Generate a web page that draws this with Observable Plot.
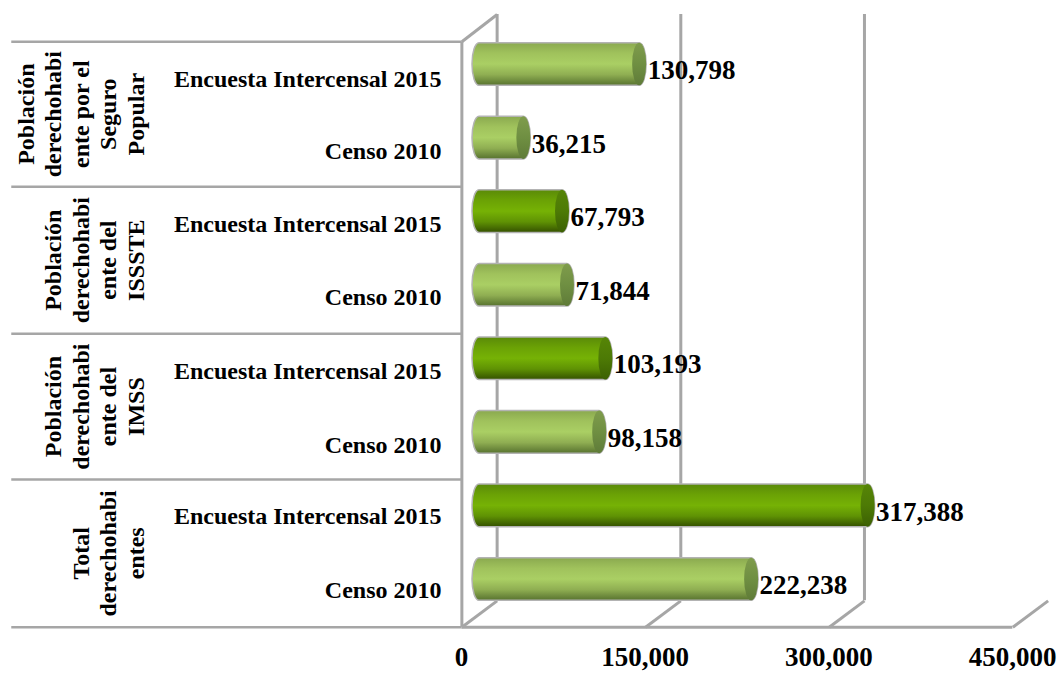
<!DOCTYPE html>
<html><head><meta charset="utf-8">
<script src="https://cdn.jsdelivr.net/npm/d3@7"></script>
<script src="https://cdn.jsdelivr.net/npm/@observablehq/plot@0.6"></script>
<style>html,body{margin:0;padding:0;background:#fff}svg{display:block}</style>
</head><body><div id="chart"></div>
<script>
const sources = ["Encuesta Intercensal 2015","Censo 2010","Encuesta Intercensal 2015","Censo 2010","Encuesta Intercensal 2015","Censo 2010","Encuesta Intercensal 2015","Censo 2010"];
const values = [130798,36215,67793,71844,103193,98158,317388,222238];
const darkBars = [false,false,true,false,true,false,true,false];
const groupLabels = ["Población\nderechohabi\nente por el\nSeguro\nPopular","Población\nderechohabi\nente del\nISSSTE","Población\nderechohabi\nente del\nIMSS","Total\nderechohabi\nentes"];
const ticks = [0,150000,300000,450000];
const wallTicks = [0,150000,300000];
const separators = [-0.31,1.66,3.66,5.64,7.65];

// scale-space helpers for the pseudo 3-D frame
const depth = 14400, capHalf = 5700, halfBar = 0.29;
const leftEdge = -382000, groupX = -274000;
const backTop = -0.68, backFloor = 7.29, floor = separators[4], wallTop = separators[0];
const labelNudge = [0.03,0,-0.01,-0.01,0,0,-0.03,-0.03];

const rows = values.map((v,i)=>({row:i,value:v,source:sources[i],dark:darkBars[i]}));
const groups = groupLabels.map((t,i)=>({text:t,row:(separators[i]+separators[i+1])/2}));
const grid = "#a6a6a6";

function gradient(defs,id,stops){
  const g = defs.append("linearGradient").attr("id",id).attr("x1",0).attr("y1",0).attr("x2",0).attr("y2",1);
  stops.forEach(([o,c])=>g.append("stop").attr("offset",o).attr("stop-color",c));
}
const defsMark = () => {
  const defs = d3.create("svg:defs");
  gradient(defs,"light",[[0,"#8aa94f"],[0.25,"#a0c25c"],[0.5,"#aacf64"],[0.75,"#8fae52"],[1,"#57722f"]]);
  gradient(defs,"dark",[[0,"#5a8a08"],[0.25,"#6ba205"],[0.5,"#76b205"],[0.75,"#5f9204"],[1,"#345000"]]);
  gradient(defs,"lightCap",[[0,"#7f9c4c"],[0.5,"#6f8f42"],[1,"#5f7b38"]]);
  gradient(defs,"darkCap",[[0,"#568507"],[0.5,"#4d7a05"],[1,"#3c6003"]]);
  return defs.node();
};

const bars = (dark) => {
  const data = rows.filter(d=>d.dark===dark);
  return [
    Plot.rect(data,{x1:-capHalf,x2:d=>d.value+capHalf,y1:d=>d.row-halfBar,y2:d=>d.row+halfBar,rx:7,ry:21,
      fill:dark?"url(#dark)":"url(#light)",stroke:"#b3b3b3",strokeWidth:1.5}),
    Plot.rect(data,{x1:d=>d.value-capHalf,x2:d=>d.value+capHalf,y1:d=>d.row-halfBar,y2:d=>d.row+halfBar,rx:7,ry:21,
      fill:dark?"url(#darkCap)":"url(#lightCap)"})
  ];
};

const chart = Plot.plot({
  width:1057,height:673,
  marginTop:0,marginRight:0,marginBottom:45,marginLeft:0,
  style:{fontFamily:"'Liberation Serif',serif",fontWeight:"bold",color:"#000",background:"#fff",overflow:"visible"},
  x:{type:"linear",domain:[0,450000],range:[479,1030],axis:null},
  y:{type:"linear",domain:[0,7],range:[64,579],axis:null},
  marks:[
    defsMark,
    Plot.ruleX(wallTicks,{x:d=>d+depth,y1:backTop,y2:backFloor,stroke:grid,strokeWidth:3}),
    Plot.link(ticks,{x1:d=>d-depth,x2:d=>d+depth,y1:floor,y2:backFloor,stroke:grid,strokeWidth:3}),
    Plot.link([0],{x1:d=>d-depth,x2:d=>d+depth,y1:wallTop,y2:backTop,stroke:grid,strokeWidth:3}),
    Plot.ruleX([0],{x:d=>d-depth,y1:wallTop,y2:floor,stroke:grid,strokeWidth:3}),
    Plot.ruleY(separators,{x1:leftEdge,x2:-depth,stroke:grid,strokeWidth:2.5}),
    Plot.ruleY([floor],{x1:-depth,x2:450000-depth,stroke:grid,strokeWidth:3}),
    ...bars(false),
    ...bars(true),
    Plot.text(rows,{x:"value",y:"row",text:d=>d3.format(",")(d.value),dx:8,dy:6,textAnchor:"start",fontSize:27,fontWeight:"bold",fill:"#000"}),
    Plot.text(rows,{x:0,y:d=>d.row+labelNudge[d.row],text:"source",dx:-38,dy:13,textAnchor:"end",fontSize:24,fontWeight:"bold",fill:"#000"}),
    Plot.text(groups,{x:groupX,y:"row",text:"text",rotate:-90,lineAnchor:"bottom",textAnchor:"middle",lineHeight:1.15,fontSize:24,fontWeight:"bold",fill:"#000"}),
    Plot.axisX({ticks:ticks,tickFormat:d3.format(","),anchor:"bottom",tickSize:0,tickPadding:18,dx:-18,fontSize:27,fontWeight:"bold",label:null})
  ]
});
document.getElementById("chart").append(chart);
</script></body></html>
